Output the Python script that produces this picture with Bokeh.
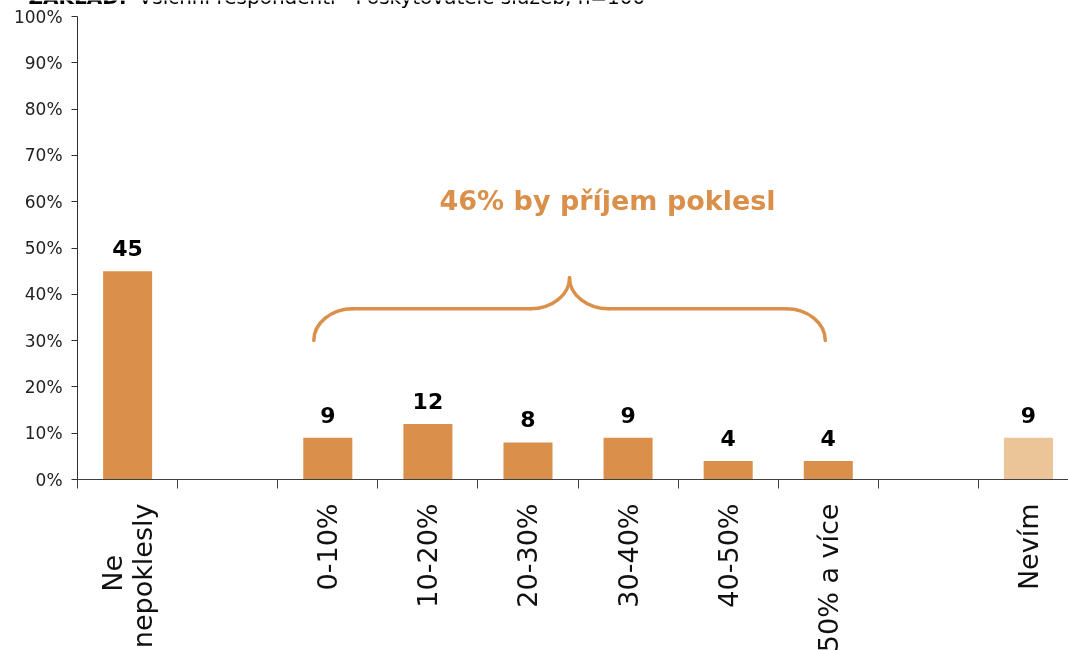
import math
from bokeh.plotting import figure
from bokeh.models import Range1d, FixedTicker, Label, ColumnDataSource
from bokeh.core.properties import value
from bokeh.embed import file_html
from bokeh.resources import INLINE

# ---- data ----
NB = "\u00a0"
categories = ["Ne" + NB * 6 + "\nnepoklesly", "", "0-10%", "10-20%", "20-30%", "30-40%",
              "40-50%", "50% a více", "", "Nevím"]
values = [45, None, 9, 12, 8, 9, 4, 4, None, 9]
bar_colors = ["#DA904A", None, "#DA904A", "#DA904A", "#DA904A", "#DA904A",
              "#DA904A", "#DA904A", None, "#EBC597"]
decline_categories = ["0-10%", "10-20%", "20-30%", "30-40%", "40-50%", "50% a více"]
y_ticks = [0, 10, 20, 30, 40, 50, 60, 70, 80, 90, 100]
y_tick_labels = ["0%", "10%", "20%", "30%", "40%", "50%", "60%", "70%", "80%", "90%", "100%"]
title_bold = "ZÁKLAD:"
title_rest = "Všichni respondenti - Poskytovatelé služeb, n=100"
annotation_suffix = "% by příjem poklesl"

ORANGE = "#DA904A"
FONT = "DejaVu Sans"

# ---- figure ----
# The frame covers the whole canvas; both axes are placed at fixed data
# locations (x = 0 and y = 0) so that nothing is clipped.
p = figure(width=1068, height=650, output_backend="svg", toolbar_location=None,
           x_range=Range1d(-0.77, 9.9), y_range=Range1d(-36.93, 103.46),
           min_border_left=0, min_border_right=0, min_border_top=0,
           min_border_bottom=0)
p.styles = {"position": "fixed", "top": "0px", "left": "0px"}
p.outline_line_color = None
p.xgrid.visible = False
p.ygrid.visible = False
p.background_fill_color = "white"
p.border_fill_color = "white"

# bars
xs, tops, cols = [], [], []
for i, (v, c) in enumerate(zip(values, bar_colors)):
    if v is not None:
        xs.append(i + 0.5)
        tops.append(v)
        cols.append(c)
src = ColumnDataSource(dict(x=xs, top=tops, color=cols,
                            label=[str(v) for v in tops],
                            ly=[t + 5.0 for t in tops]))
p.vbar(x="x", top="top", bottom=0, width=0.49, fill_color="color",
       line_color=None, source=src)
p.text(x="x", y="ly", text="label", source=src, text_align="center",
       text_baseline="middle", text_font=value(FONT),
       text_font_style="bold", text_font_size="22px", text_color="#000000")

# x axis
n = len(categories)
xa = p.xaxis[0]
xa.fixed_location = 0
centers = [i + 0.5 for i in range(n)]
xa.ticker = FixedTicker(ticks=centers, minor_ticks=list(range(n)))
xa.bounds = (0, 9.9)
xa.major_label_overrides = {c: lab for c, lab in zip(centers, categories)}
xa.major_label_orientation = math.pi / 2
xa.major_tick_out = 0
xa.major_tick_in = 0
xa.minor_tick_out = 9
xa.minor_tick_in = 0
xa.axis_line_color = "#404040"
xa.minor_tick_line_color = "#404040"
xa.major_label_text_font = FONT
xa.major_label_text_font_size = "27px"
xa.major_label_text_line_height = 0.95
xa.major_label_text_color = "#111111"
xa.major_label_standoff = 15

# y axis (drawn at x = 0, the left edge of the first category)
ya = p.yaxis[0]
ya.fixed_location = 0
ya.ticker = FixedTicker(ticks=y_ticks)
ya.bounds = (y_ticks[0], y_ticks[-1])
ya.major_label_overrides = {t: lab for t, lab in zip(y_ticks, y_tick_labels)}
ya.major_tick_out = 6
ya.major_tick_in = 0
ya.minor_tick_line_color = None
ya.axis_line_color = "#303030"
ya.major_tick_line_color = "#303030"
ya.major_label_text_font = FONT
ya.major_label_text_font_size = "17px"
ya.major_label_text_color = "#222222"
ya.major_label_standoff = 9

# brace over the decline categories
idx = [categories.index(c) for c in decline_categories]
L = idx[0] + 0.5 - 0.14
R = idx[-1] + 0.5 - 0.03
M = (L + R) / 2
w = 0.39
tip, bar, peak = 30.0, 36.9, 43.6
k = 0.552
bz = dict(
    x0=[L, M - w, M, R - w],
    y0=[tip, bar, peak, bar],
    x1=[L + w, M, M + w, R],
    y1=[bar, peak, bar, tip],
    cx0=[L, M - w + k * w, M, R - w + k * w],
    cy0=[tip + k * (bar - tip), bar, peak - k * (peak - bar), bar],
    cx1=[L + w - k * w, M, M + w - k * w, R],
    cy1=[bar, peak - k * (peak - bar), bar, tip + k * (bar - tip)],
)
p.bezier(source=ColumnDataSource(bz), x0="x0", y0="y0", x1="x1", y1="y1",
         cx0="cx0", cy0="cy0", cx1="cx1", cy1="cy1",
         line_color=ORANGE, line_width=3.5, line_cap="round")
p.segment(x0=[L + w, M + w], y0=[bar, bar], x1=[M - w, R - w], y1=[bar, bar],
          line_color=ORANGE, line_width=3.5, line_cap="round")

decline_total = sum(values[i] for i in idx)
p.add_layout(Label(x=M + 0.38, y=60.3, text=f"{decline_total}{annotation_suffix}",
                   text_align="center", text_baseline="middle",
                   text_font=FONT, text_font_style="bold",
                   text_font_size="27px", text_color=ORANGE))

# title (partly cut off at the top, as in the original)
p.add_layout(Label(x=-0.49, y=104.3, text=title_bold, text_font=FONT,
                   text_font_style="bold", text_font_size="20px",
                   text_baseline="alphabetic", text_color="#000000"))
p.add_layout(Label(x=-0.49, y=104.3, x_offset=110, text=title_rest, text_font=FONT,
                   text_font_size="20px", text_baseline="alphabetic",
                   text_color="#000000"))

open("out.html", "w").write(file_html(p, INLINE))
